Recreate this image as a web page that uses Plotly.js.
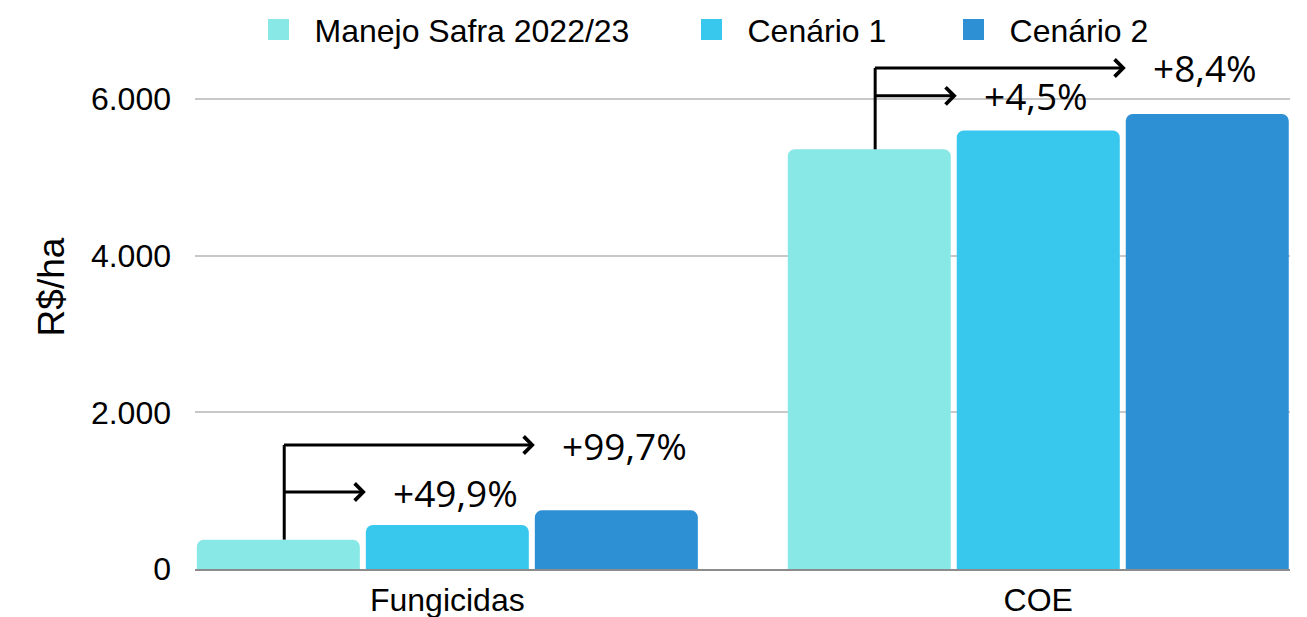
<!DOCTYPE html>
<html><head><meta charset="utf-8">
<script src="https://cdn.plot.ly/plotly-3.0.1.min.js"></script>
<style>html,body{margin:0;padding:0;background:#fff;}#chart{width:1307px;height:617px;}</style>
</head><body><div id="chart"></div>
<script>
// ---- data ----
const categories = ['Fungicidas', 'COE'];
const seriesNames = ['Manejo Safra 2022/23', 'Cenário 1', 'Cenário 2'];
const manejo = [375, 5358];
const cenario1 = [562, 5599];
const cenario2 = [749, 5808];
const changeC1 = ['+49,9%', '+4,5%'];
const changeC2 = ['+99,7%', '+8,4%'];
const yTickVals = [0, 2000, 4000, 6000];

// ---- style ----
const colors = ['#88E8E6', '#38C8EE', '#2E90D4'];
const BARGAP = 0.142, GROUPGAP = 0.0355;
const groupW = 1 - BARGAP, slot = groupW / 3, barW = slot * (1 - GROUPGAP);
const arrowLowLevel = [983, 6040];
const arrowHighLevel = [1583, 6396];
const labelGap = 0.042;

const series = [manejo, cenario1, cenario2];
const traces = series.map((vals, k) => ({
  type: 'bar', x: categories, y: vals, name: seriesNames[k],
  marker: {color: colors[k], cornerradius: 7}, showlegend: false, hoverinfo: 'skip'
}));
// legend entries
seriesNames.forEach((n, k) => traces.push({
  type: 'scatter', mode: 'markers', x: [null], y: [null], name: n,
  legend: k === 0 ? 'legend' : 'legend' + (k + 1),
  marker: {symbol: 'square', size: 16, color: colors[k], line: {color: colors[k], width: 5}},
  showlegend: true, hoverinfo: 'skip'
}));

const shapes = [], annotations = [];
categories.forEach((c, i) => {
  const xStart = i - slot + 0.01;
  const tip1 = i - barW / 2;
  const tip2 = i + slot - barW / 2;
  shapes.push({type: 'line', xref: 'x', yref: 'y', x0: xStart, x1: xStart,
    y0: manejo[i], y1: arrowHighLevel[i], line: {color: '#000', width: 3}});
  [[tip1, arrowLowLevel[i], changeC1[i]], [tip2, arrowHighLevel[i], changeC2[i]]].forEach(([tx, ty, lab]) => {
    annotations.push({xref: 'x', yref: 'y', axref: 'x', ayref: 'y', x: tx, y: ty, ax: xStart - 0.003, ay: ty,
      text: '', showarrow: true, arrowhead: 4, arrowsize: 1.1, arrowwidth: 3, arrowcolor: '#000', standoff: 0, startstandoff: 0});
    annotations.push({xref: 'x', yref: 'y', x: tx + labelGap, y: ty, xanchor: 'left', yanchor: 'middle',
      text: lab, showarrow: false, font: {family: 'Open Sans, Noto Sans, sans-serif', size: 37, color: '#000'}});
  });
});

const legendBase = {orientation: 'h', xanchor: 'left', yanchor: 'middle', y: 0.956, itemwidth: 62,
  bgcolor: 'rgba(0,0,0,0)', font: {family: 'Liberation Sans, Arial, sans-serif', size: 32, color: '#000'}};

const layout = {
  width: 1307, height: 617,
  margin: {l: 195, r: 17, t: 5, b: 48, autoexpand: false},
  paper_bgcolor: '#fff', plot_bgcolor: '#fff',
  barmode: 'group', bargap: BARGAP, bargroupgap: GROUPGAP,
  separators: ',.',
  font: {family: 'Liberation Sans, Arial, sans-serif', size: 28, color: '#000'},
  xaxis: {type: 'category', range: [-0.427, 1.426], showgrid: false, showline: true,
    linecolor: '#8c8c8c', linewidth: 2, ticks: '', tickfont: {size: 32, color: '#000'},
    ticklabelstandoff: 2, fixedrange: true, automargin: false},
  yaxis: {range: [0, 7200], tickvals: yTickVals, tickformat: ',', showgrid: true,
    gridcolor: '#c8c8c8', gridwidth: 2, zeroline: false, showline: false, ticks: '',
    tickfont: {size: 32, color: '#000'}, ticklabelstandoff: 23, automargin: false,
    title: {text: 'R$/ha', font: {size: 37, color: '#000'}, standoff: 14}},
  legend: Object.assign({}, legendBase, {x: 0.0434}),
  legend2: Object.assign({}, legendBase, {x: 0.4388}),
  legend3: Object.assign({}, legendBase, {x: 0.6781}),
  shapes: shapes, annotations: annotations
};

Plotly.newPlot('chart', traces, layout, {displayModeBar: false, staticPlot: true});
</script>
</body></html>
